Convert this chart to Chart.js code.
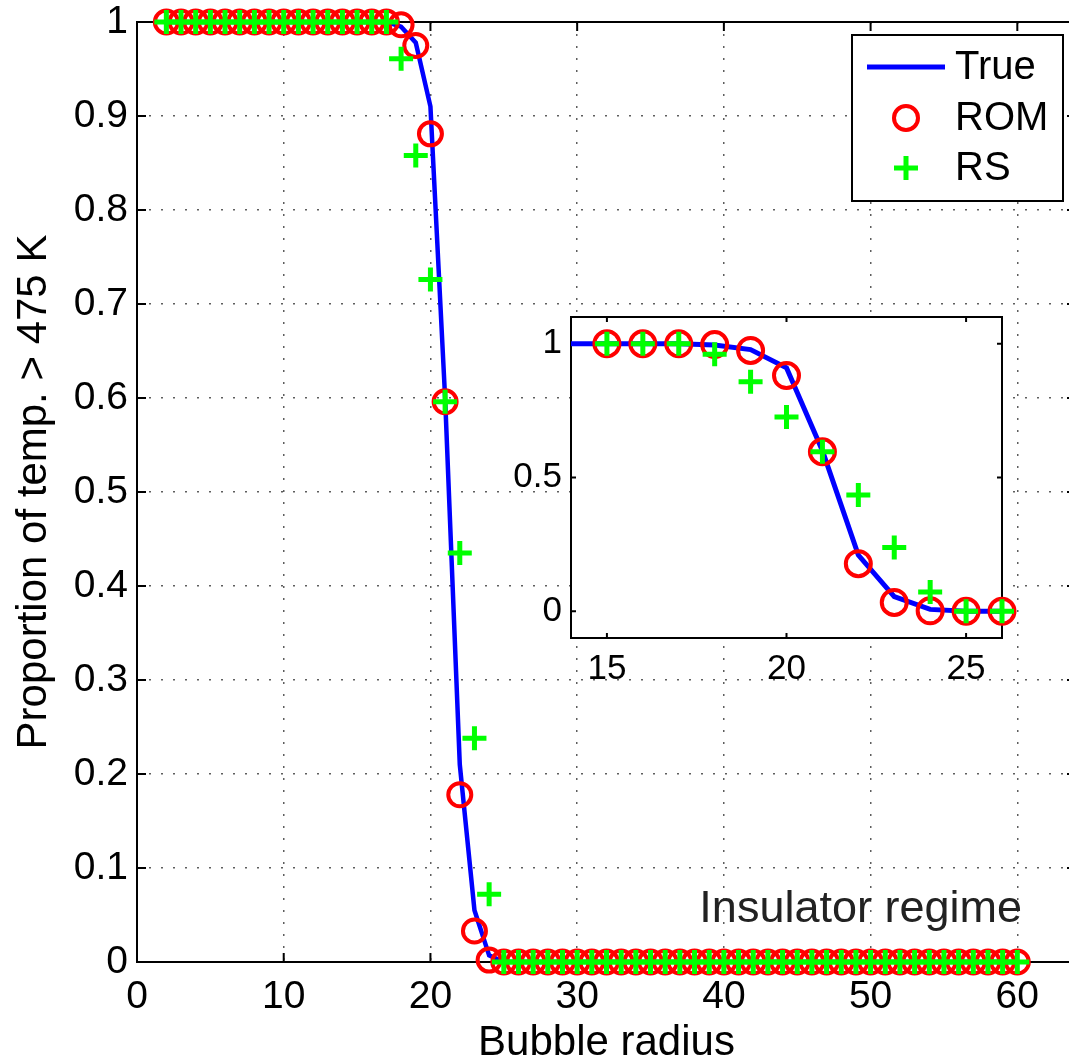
<!DOCTYPE html>
<html>
<head>
<meta charset="utf-8">
<script src="https://cdn.jsdelivr.net/npm/chart.js@4.4.1/dist/chart.umd.min.js"></script>
<style>
  html, body { margin: 0; padding: 0; background: #fff; }
  .wrap { position: relative; width: 1069px; height: 1061px; overflow: hidden; }
  #main { position: absolute; left: 0; top: 0; }
  #inset { position: absolute; left: 490px; top: 290px; }
</style>
</head>
<body>
<div class="wrap">
  <canvas id="main" width="1100" height="1061"></canvas>
  <canvas id="inset" width="540" height="400"></canvas>
</div>
<script>
"use strict";

// bubble radius (x)
const radius = [2, 3, 4, 5, 6, 7, 8, 9, 10, 11, 12, 13, 14, 15, 16, 17, 18, 19, 20, 21,
    22, 23, 24, 25, 26, 27, 28, 29, 30, 31, 32, 33, 34, 35, 36, 37, 38, 39, 40, 41,
    42, 43, 44, 45, 46, 47, 48, 49, 50, 51, 52, 53, 54, 55, 56, 57, 58, 59, 60];

// proportion of temp > 475 K
const trueVals = [1, 1, 1, 1, 1, 1, 1, 1, 1, 1, 1, 1, 1, 1, 1, 1, 0.995, 0.978, 0.91, 0.6,
    0.21, 0.055, 0.007, 0, 0, 0, 0, 0, 0, 0, 0, 0, 0, 0, 0, 0, 0, 0, 0, 0,
    0, 0, 0, 0, 0, 0, 0, 0, 0, 0, 0, 0, 0, 0, 0, 0, 0, 0, 0];
const romVals = [1, 1, 1, 1, 1, 1, 1, 1, 1, 1, 1, 1, 1, 1, 1, 1, 0.997, 0.975, 0.881, 0.596,
    0.178, 0.033, 0.002, 0, 0, 0, 0, 0, 0, 0, 0, 0, 0, 0, 0, 0, 0, 0, 0, 0,
    0, 0, 0, 0, 0, 0, 0, 0, 0, 0, 0, 0, 0, 0, 0, 0, 0, 0, 0];
const rsVals = [1, 1, 1, 1, 1, 1, 1, 1, 1, 1, 1, 1, 1, 1, 1, 1, 0.961, 0.858, 0.726, 0.596,
    0.435, 0.238, 0.072, 0, 0, 0, 0, 0, 0, 0, 0, 0, 0, 0, 0, 0, 0, 0, 0, 0,
    0, 0, 0, 0, 0, 0, 0, 0, 0, 0, 0, 0, 0, 0, 0, 0, 0, 0, 0];

// ticks
const xTicks = [0, 10, 20, 30, 40, 50, 60];
const yTicks = [0, 0.1, 0.2, 0.3, 0.4, 0.5, 0.6, 0.7, 0.8, 0.9, 1];
const yTickLabels = ["0", "0.1", "0.2", "0.3", "0.4", "0.5", "0.6", "0.7", "0.8", "0.9", "1"];
const insetXTicks = [15, 20, 25];
const insetYTicks = [0, 0.5, 1];
const insetYTickLabels = ["0", "0.5", "1"];

Chart.defaults.font.family = '"Liberation Sans", Arial, Helvetica, sans-serif';
Chart.defaults.color = "#000";

function pts(vals, lo, hi) {
    let out = [];
    radius.forEach((r, i) => {
        if (lo === undefined || (r >= lo && r <= hi)) out.push({ x: r, y: vals[i] });
    });
    return out;
}

// keep the chart area where we put it (labels may overhang)
function noPad(s) {
    s.paddingTop = 0;
    s.paddingBottom = 0;
    s.paddingLeft = 0;
    s.paddingRight = 0;
}

// box + inward tick marks (matlab style)
const boxTicks = {
    id: "boxTicks",
    beforeDraw(chart, args, opts) {
        if (!opts.fill) return;
        const a = chart.chartArea;
        chart.ctx.save();
        chart.ctx.fillStyle = "#fff";
        chart.ctx.fillRect(a.left, a.top, a.right - a.left, a.bottom - a.top);
        chart.ctx.restore();
    },
    beforeDatasetsDraw(chart, args, opts) {
        const ctx = chart.ctx;
        const a = chart.chartArea;
        const x = chart.scales.x, y = chart.scales.y;
        ctx.save();
        ctx.setLineDash([]);
        ctx.strokeStyle = "#000";
        ctx.lineWidth = 2;
        ctx.beginPath();
        x.ticks.forEach(t => {
            const px = x.getPixelForValue(t.value);
            ctx.moveTo(px, a.bottom); ctx.lineTo(px, a.bottom - opts.len);
            ctx.moveTo(px, a.top); ctx.lineTo(px, a.top + opts.len);
        });
        y.ticks.forEach(t => {
            const py = y.getPixelForValue(t.value);
            ctx.moveTo(a.left, py); ctx.lineTo(a.left + opts.len, py);
            ctx.moveTo(a.right, py); ctx.lineTo(a.right - opts.len, py);
        });
        ctx.stroke();
        ctx.strokeRect(a.left, a.top, a.right - a.left, a.bottom - a.top);
        ctx.restore();
    }
};

// legend box + annotation on the main plot
const legendBox = {
    id: "legendBox",
    afterDraw(chart) {
        const ctx = chart.ctx;
        const ds = chart.data.datasets;
        ctx.save();
        ctx.fillStyle = "#fff";
        ctx.fillRect(852, 35, 211, 166);
        ctx.strokeStyle = "#000";
        ctx.lineWidth = 2;
        ctx.strokeRect(852, 35, 211, 166);

        const rows = [67, 118, 168];
        // True
        ctx.strokeStyle = ds[0].borderColor;
        ctx.lineWidth = 5;
        ctx.beginPath();
        ctx.moveTo(867, rows[0]); ctx.lineTo(945, rows[0]);
        ctx.stroke();
        // ROM
        ctx.strokeStyle = ds[1].borderColor;
        ctx.lineWidth = 4;
        ctx.beginPath();
        ctx.arc(906, rows[1], 12, 0, Math.PI * 2);
        ctx.stroke();
        // RS
        ctx.strokeStyle = ds[2].borderColor;
        ctx.lineWidth = 5;
        ctx.beginPath();
        ctx.moveTo(894, rows[2]); ctx.lineTo(918, rows[2]);
        ctx.moveTo(906, rows[2] - 12); ctx.lineTo(906, rows[2] + 12);
        ctx.stroke();

        ctx.fillStyle = "#000";
        ctx.font = '40px "Liberation Sans", Arial, sans-serif';
        ctx.textBaseline = "middle";
        ctx.textAlign = "left";
        ds.forEach((d, i) => ctx.fillText(d.label, 955, rows[i] + 1));

        ctx.font = '45px "Liberation Sans", Arial, sans-serif';
        ctx.textAlign = "right";
        ctx.textBaseline = "alphabetic";
        ctx.fillStyle = "#222";
        ctx.fillText("Insulator regime", 1022, 922);
        ctx.restore();
    }
};

function makeDatasets(inset) {
    const lo = inset ? 15 : undefined, hi = inset ? 26 : undefined;
    return [{
        label: "True",
        data: pts(trueVals),
        borderColor: "#0000ff",
        borderWidth: inset ? 5 : 4.5,
        pointRadius: 0,
        tension: 0,
        order: 3
    }, {
        label: "ROM",
        data: pts(romVals, lo, hi),
        showLine: false,
        pointStyle: "circle",
        pointRadius: inset ? 12.5 : 11.5,
        borderWidth: 4,
        borderColor: "#ff0000",
        pointBorderColor: "#ff0000",
        pointBackgroundColor: "rgba(0,0,0,0)",
        pointBorderWidth: 4,
        clip: false,
        order: 2
    }, {
        label: "RS",
        data: pts(rsVals, lo, hi),
        showLine: false,
        pointStyle: "cross",
        pointRadius: 12,
        borderColor: "#00ff00",
        pointBorderColor: "#00ff00",
        pointBorderWidth: 5,
        clip: false,
        order: 1
    }];
}

const dotted = { color: "rgba(40,40,40,0.75)", lineWidth: 1.5, drawTicks: false };

new Chart(document.getElementById("main"), {
    type: "line",
    data: { datasets: makeDatasets(false) },
    options: {
        responsive: false,
        animation: false,
        devicePixelRatio: 1,
        layout: { padding: { top: 22, right: 24, left: 0, bottom: 0 } },
        scales: {
            x: {
                type: "linear",
                min: 0,
                max: 64,
                afterBuildTicks: s => { s.ticks = xTicks.map(v => ({ value: v })) },
                afterFit: s => { s.height = 99; noPad(s) },
                grid: dotted,
                border: { display: false, dash: [2, 10] },
                ticks: { font: { size: 39 }, padding: 12, maxRotation: 0 },
                title: { display: true, text: "Bubble radius", font: { size: 42 }, padding: { top: 0, bottom: -8 } }
            },
            y: {
                min: 0,
                max: 1,
                afterBuildTicks: s => { s.ticks = yTicks.map(v => ({ value: v })) },
                afterFit: s => { s.width = 137; noPad(s) },
                grid: dotted,
                border: { display: false, dash: [2, 10] },
                ticks: { font: { size: 39 }, padding: 9, callback: (v, i) => yTickLabels[i] },
                title: { display: true, text: "Proportion of temp. > 475 K", font: { size: 42 }, padding: { top: 9, bottom: 0 } }
            }
        },
        plugins: {
            legend: { display: false },
            tooltip: { enabled: false },
            boxTicks: { len: 9 }
        }
    },
    plugins: [boxTicks, legendBox]
});

// inset zoom on the transition
new Chart(document.getElementById("inset"), {
    type: "line",
    data: { datasets: makeDatasets(true) },
    options: {
        responsive: false,
        animation: false,
        devicePixelRatio: 1,
        layout: { padding: { top: 27, right: 28, left: 0, bottom: 0 } },
        scales: {
            x: {
                type: "linear",
                min: 14,
                max: 26,
                afterBuildTicks: s => { s.ticks = insetXTicks.map(v => ({ value: v })) },
                afterFit: s => { s.height = 52; noPad(s) },
                grid: { display: false, drawTicks: false },
                border: { display: false },
                ticks: { font: { size: 35 }, padding: 10, maxRotation: 0 }
            },
            y: {
                min: -0.1,
                max: 1.1,
                afterBuildTicks: s => { s.ticks = insetYTicks.map(v => ({ value: v })) },
                afterFit: s => { s.width = 81; noPad(s) },
                grid: { display: false, drawTicks: false },
                border: { display: false },
                ticks: { font: { size: 35 }, padding: 9, callback: (v, i) => insetYTickLabels[i] }
            }
        },
        plugins: {
            legend: { display: false },
            tooltip: { enabled: false },
            boxTicks: { len: 5, fill: true }
        }
    },
    plugins: [boxTicks]
});
</script>
</body>
</html>
